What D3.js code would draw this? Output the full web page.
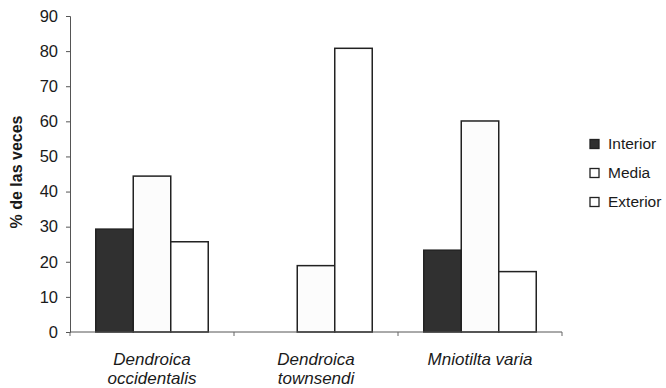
<!DOCTYPE html>
<html><head><meta charset="utf-8">
<script src="https://cdn.jsdelivr.net/npm/d3@7"></script>
<style>
body{margin:0;background:#fff;}
svg{display:block;font-family:"Liberation Sans",Arial,sans-serif;}
</style></head>
<body><svg id="c" width="666" height="388"></svg>
<script>
const categories = [["Dendroica","occidentalis"],["Dendroica","townsendi"],["Mniotilta varia"]];
const series = ["Interior","Media","Exterior"];
const interior = [29.3, 0, 23.3];
const media = [44.4, 18.9, 60.1];
const exterior = [25.7, 80.8, 17.2];
const yTicks = [0,10,20,30,40,50,60,70,80,90];

const values = [interior, media, exterior];
const fills = ["#303030", "#fcfcfc", "#ffffff"];

const svg = d3.select("#c");
const mLeft = 70, mRight = 562, mTop = 16, mBottom = 332;
const catIdx = categories.map((d,i)=>i);

const x0 = d3.scaleBand().domain(catIdx).range([mLeft, mRight]).paddingInner(0).paddingOuter(0);
const x1 = d3.scaleBand().domain(series).range([0, x0.bandwidth()]).paddingInner(0).paddingOuter(0.687);
const y = d3.scaleLinear().domain([0,90]).range([mBottom, mTop]);

// Y axis
const yAxis = d3.axisLeft(y).tickValues(yTicks).tickSize(4).tickPadding(8).tickFormat(d3.format("d"));
const gy = svg.append("g").attr("transform",`translate(${mLeft},0)`).call(yAxis);
gy.select(".domain").attr("stroke","#555").attr("stroke-width",1);
gy.selectAll(".tick line").attr("stroke","#555");
gy.selectAll(".tick text").attr("font-size",16.5).attr("fill","#1a1a1a").attr("font-family","\"Liberation Sans\",Arial,sans-serif");

// bars
series.forEach((s, si) => {
  svg.append("g").selectAll("rect").data(values[si]).join("rect")
    .attr("x",(d,i)=>x0(i)+x1(s))
    .attr("y",d=>y(d))
    .attr("width",x1.bandwidth())
    .attr("height",d=>y(0)-y(d))
    .attr("fill",fills[si])
    .attr("stroke",d=>d>0?"#222":"none")
    .attr("stroke-width",1.5);
});

// X axis
svg.append("line").attr("x1",mLeft).attr("x2",mRight).attr("y1",mBottom).attr("y2",mBottom)
  .attr("stroke","#555").attr("stroke-width",1);
const bounds = catIdx.map(i=>x0(i)).concat([mRight]);
svg.append("g").selectAll("line").data(bounds).join("line")
  .attr("x1",d=>d).attr("x2",d=>d).attr("y1",mBottom).attr("y2",mBottom+4)
  .attr("stroke","#666");

// category labels
const lab = svg.append("g").selectAll("text").data(categories).join("text")
  .attr("x",(d,i)=>x0(i)+x0.bandwidth()/2)
  .attr("y",365)
  .attr("text-anchor","middle")
  .attr("font-size",17).attr("font-style","italic").attr("fill","#1a1a1a");
lab.each(function(d){
  const t = d3.select(this);
  d.forEach((line,li)=>{
    t.append("tspan").attr("x",t.attr("x")).attr("dy",li===0?0:19).text(line);
  });
});

// y title
svg.append("text").attr("transform","translate(22,172) rotate(-90)")
  .attr("text-anchor","middle").attr("font-size",16).attr("font-weight","bold").attr("fill","#1a1a1a")
  .text("% de las veces");

// legend
const leg = svg.append("g").selectAll("g").data(series).join("g")
  .attr("transform",(d,i)=>`translate(590,${144 + i*29})`);
leg.append("rect").attr("x",0).attr("y",-4.5).attr("width",9).attr("height",9)
  .attr("fill",(d,i)=>i===0?"#303030":"#fff").attr("stroke","#222").attr("stroke-width",1.3);
leg.append("text").attr("x",18).attr("y",0).attr("dy","0.35em")
  .attr("font-size",15.5).attr("fill","#1a1a1a").text(d=>d);
</script></body></html>
